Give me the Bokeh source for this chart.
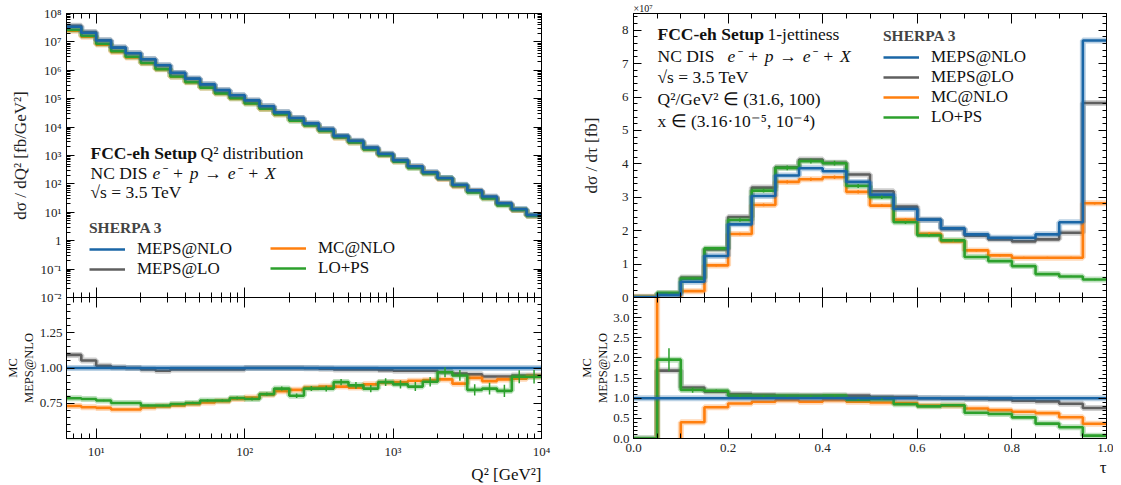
import math
from bokeh.plotting import figure
from bokeh.layouts import row, column
from bokeh.models import (LogAxis, LinearAxis, FixedTicker, CustomJSTickFormatter,
                          NumeralTickFormatter, Label, Legend, LegendItem, Range1d, Title)
from bokeh.embed import file_html
from bokeh.resources import INLINE

FONT = "Liberation Serif"
C_NLO = "#1a66a6"
C_LO = "#5f5f5f"
C_MC = "#ff7f0e"
C_PS = "#2ca02c"

# ---------------- Q^2 distribution (left) ----------------
q2_edges = [6.31, 7.94, 10.0, 12.6, 15.8, 20.0, 25.1, 31.6, 39.8, 50.1, 63.1, 79.4,
            100.0, 126.0, 158.0, 200.0, 251.0, 316.0, 398.0, 501.0, 631.0, 794.0,
            1000.0, 1259.0, 1585.0, 1995.0, 2512.0, 3162.0, 3981.0, 5012.0, 6310.0, 7943.0, 10000.0]
q2_meps_nlo = [3.4e7, 2.1e7, 1.12e7, 6.3e6, 4.0e6, 2.45e6, 1.5e6, 8.1e5, 5.1e5, 3.2e5, 2.0e5,
               1.32e5, 8.7e4, 5.4e4, 3.3e4, 2.1e4, 1.35e4, 8.5e3, 4.9e3, 3.3e3, 1.9e3, 1.15e3,
               690, 420, 257, 162, 93, 59, 36, 21, 13, 8.1]
# ratios MC / MEPS@NLO
q2_ratio_meps_lo = [1.093, 1.053, 1.016, 1.005, 1.0, 0.99, 0.98, 0.99, 0.99, 0.99, 0.99, 0.99,
                    1.0, 1.0, 1.0, 1.0, 0.998, 0.995, 0.99, 0.99, 0.99, 0.985, 0.98, 0.98,
                    0.98, 0.97, 0.96, 0.955, 0.94, 0.94, 0.947, 0.947]
q2_ratio_mc_nlo = [0.73, 0.722, 0.717, 0.706, 0.706, 0.72, 0.728, 0.735, 0.745, 0.755, 0.765, 0.78,
                   0.79, 0.81, 0.835, 0.845, 0.861, 0.868, 0.868, 0.861, 0.884, 0.896, 0.90, 0.91,
                   0.914, 0.919, 0.889, 0.93, 0.907, 0.919, 0.924, 0.942]
q2_ratio_lo_ps = [0.785, 0.78, 0.77, 0.752, 0.752, 0.734, 0.734, 0.745, 0.752, 0.77, 0.77, 0.787,
                  0.78, 0.815, 0.854, 0.803, 0.854, 0.854, 0.90, 0.877, 0.854, 0.90, 0.884, 0.868,
                  0.903, 0.97, 0.947, 0.845, 0.854, 0.838, 0.938, 0.938]
q2_ratio_lo_ps_err = [0.004, 0.004, 0.005, 0.005, 0.005, 0.006, 0.006, 0.007, 0.008, 0.008, 0.009,
                      0.01, 0.011, 0.012, 0.014, 0.016, 0.018, 0.02, 0.022, 0.024, 0.026, 0.028,
                      0.03, 0.032, 0.034, 0.036, 0.038, 0.04, 0.042, 0.044, 0.046, 0.048]

# ---------------- 1-jettiness (right) ----------------
tau_edges = [0.0, 0.05, 0.1, 0.15, 0.2, 0.25, 0.3, 0.35, 0.4, 0.45, 0.5,
             0.55, 0.6, 0.65, 0.7, 0.75, 0.8, 0.85, 0.9, 0.95, 1.0]
tau_meps_nlo = [0.003, 0.07, 0.47, 1.24, 2.19, 3.04, 3.65, 3.87, 3.78, 3.46,
                3.08, 2.65, 2.33, 2.07, 1.89, 1.79, 1.79, 1.89, 2.25, 7.69]
tau_meps_lo = [0.0, 0.118, 0.595, 1.44, 2.41, 3.29, 3.9, 4.13, 4.03, 3.68,
               3.18, 2.72, 2.33, 2.05, 1.85, 1.74, 1.68, 1.74, 1.94, 5.82]
tau_mc_nlo = [0.02, -0.25, 0.19, 0.96, 1.9, 2.77, 3.46, 3.54, 3.6, 3.16,
              2.75, 2.33, 1.91, 1.68, 1.41, 1.26, 1.19, 1.19, 1.19, 2.82]
tau_lo_ps = [0.0, 0.137, 0.565, 1.47, 2.32, 3.2, 3.88, 4.08, 4.02, 3.34,
             3.0, 2.25, 1.86, 1.71, 1.21, 1.09, 0.94, 0.70, 0.63, 0.54]
tau_lo_ps_err = [0.0, 0.02, 0.03, 0.04, 0.05, 0.06, 0.07, 0.07, 0.07, 0.06,
                 0.05, 0.05, 0.04, 0.04, 0.03, 0.03, 0.03, 0.02, 0.02, 0.02]
tau_mc_nlo_err = [0.0, 0.02, 0.02, 0.03, 0.04, 0.04, 0.05, 0.05, 0.05, 0.05,
                  0.04, 0.04, 0.04, 0.03, 0.03, 0.03, 0.03, 0.03, 0.03, 0.04]

labels = ["MEPS@NLO", "MEPS@LO", "MC@NLO", "LO+PS"]

LOG_FMT = CustomJSTickFormatter(code="""
const m = {'-':'\u207b','0':'\u2070','1':'\u00b9','2':'\u00b2','3':'\u00b3','4':'\u2074','5':'\u2075','6':'\u2076','7':'\u2077','8':'\u2078','9':'\u2079'};
const e = Math.round(Math.log10(tick));
if (e == 0) { return '1'; }
return '10' + String(e).split('').map(c => m[c]).join('');
""")

TXT = "17.5px"
SP = "\u2004"
PROC = "e\u207b" + SP + "+" + SP + "p" + SP + "\u2192" + SP + "e\u207b" + SP + "+" + SP + "X"


def base_fig(**kw):
    p = figure(output_backend="svg", toolbar_location=None, **kw)
    p.outline_line_color = "black"
    p.outline_line_width = 1
    p.xgrid.grid_line_color = None
    p.ygrid.grid_line_color = None
    p.background_fill_color = "white"
    p.border_fill_color = "white"
    return p


def style_axis(ax, show_labels=True, major_len=8, minor_len=4):
    ax.major_tick_in = major_len
    ax.major_tick_out = 0
    ax.minor_tick_in = minor_len
    ax.minor_tick_out = 0
    ax.axis_line_color = "black"
    ax.major_tick_line_color = "black"
    ax.minor_tick_line_color = "black"
    ax.major_label_text_font = FONT
    ax.major_label_text_font_size = "13px"
    ax.major_label_text_color = "#222222"
    ax.axis_label_text_font = FONT
    ax.axis_label_text_font_style = "normal"
    ax.axis_label_text_font_size = "17px"
    ax.axis_label_text_color = "#222222"
    if not show_labels:
        ax.formatter = CustomJSTickFormatter(code="return ''")
        ax.major_label_text_font_size = "0px"
        ax.major_label_standoff = 0
        ax.axis_label = None


def make_axes(p, xlog, ylog):
    """returns (bottom, left, top, right) axes"""
    r = (LogAxis if ylog else LinearAxis)()
    p.add_layout(r, "right")
    t = (LogAxis if xlog else LinearAxis)()
    p.add_layout(t, "above")
    return p.below[0], p.left[0], t, r


def step(p, edges, vals, color, width=2.6):
    ys = list(vals) + [vals[-1]]
    p.step(edges, ys, mode="after", line_color=color, line_alpha=0.3, line_width=6)
    return p.step(edges, ys, mode="after", line_color=color, line_width=width)


def lab(p, x, y, text, size=TXT, style="normal", align="left", baseline="middle"):
    p.add_layout(Label(x=x, y=y, x_units="screen", y_units="screen", text=text,
                       text_font=FONT, text_font_size=size, text_font_style=style,
                       text_align=align, text_baseline=baseline, text_color="#111111"))


def side_title(p, text, place, size="12.5px", align="center", standoff=0):
    p.add_layout(Title(text=text, align=align, text_font=FONT, text_font_size=size,
                       text_font_style="normal", standoff=standoff, text_color="#111111"), place)


# tick positions
q2_major = [10.0, 100.0, 1000.0, 10000.0]
q2_minor = [m * 10.0 ** k for k in range(0, 4) for m in range(2, 10)]
y_major = [10.0 ** k for k in range(-2, 9)]
y_minor = [m * 10.0 ** k for k in range(-2, 8) for m in range(2, 10)]
tau_major = [0.0, 0.2, 0.4, 0.6, 0.8, 1.0]
tau_minor = [i * 0.05 for i in range(21)]

FW_L, FW_R, FH_M, FH_R = 475, 473, 284, 141
OVER = 8
BL_L, BR_L, BL_R, BR_R = 66, 32, 60, 7

# ================= LEFT MAIN =================
pL = base_fig(frame_width=FW_L, frame_height=FH_M, x_axis_type="log", y_axis_type="log",
              x_range=Range1d(q2_edges[0], q2_edges[-1]), y_range=Range1d(1e-2, 1e8),
              min_border_left=BL_L, min_border_right=BR_L, min_border_top=13, min_border_bottom=OVER)
b, l, t, r = make_axes(pL, True, True)
for ax in (b, t):
    ax.ticker = FixedTicker(ticks=q2_major, minor_ticks=q2_minor)
    style_axis(ax, False, major_len=10, minor_len=5)
for ax in (l, r):
    ax.ticker = FixedTicker(ticks=y_major, minor_ticks=y_minor)
style_axis(l, True)
l.formatter = LOG_FMT
l.axis_label = "d\u03c3 / dQ\u00b2 [fb/GeV\u00b2]"
l.axis_label_standoff = 8
style_axis(r, False)

q2_lo = [a * c for a, c in zip(q2_meps_nlo, q2_ratio_meps_lo)]
q2_mc = [a * c for a, c in zip(q2_meps_nlo, q2_ratio_mc_nlo)]
q2_ps = [a * c for a, c in zip(q2_meps_nlo, q2_ratio_lo_ps)]
rl_lo = step(pL, q2_edges, q2_lo, C_LO)
rl_mc = step(pL, q2_edges, q2_mc, C_MC)
rl_ps = step(pL, q2_edges, q2_ps, C_PS)
rl_nlo = step(pL, q2_edges, q2_meps_nlo, C_NLO)

lab(pL, 24, 145, "FCC-eh Setup", style="bold")
lab(pL, 134, 145, "Q\u00b2 distribution")
lab(pL, 24, 125, "NC DIS")
lab(pL, 86, 125, PROC, style="italic")
lab(pL, 24, 106, "\u221as = 3.5 TeV")

legL1 = Legend(items=[LegendItem(label="MEPS@NLO", renderers=[rl_nlo]),
                      LegendItem(label="MEPS@LO", renderers=[rl_lo])],
               location=(23, 18), title="SHERPA 3")
legL2 = Legend(items=[LegendItem(label="MC@NLO", renderers=[rl_mc]),
                      LegendItem(label="LO+PS", renderers=[rl_ps])],
               location=(204, 19))

# ================= LEFT RATIO =================
rL = base_fig(frame_width=FW_L, frame_height=FH_R, x_axis_type="log",
              x_range=pL.x_range, y_range=Range1d(0.5, 1.5),
              min_border_left=BL_L, min_border_right=BR_L, min_border_top=0, min_border_bottom=37)
b, l, t, r = make_axes(rL, True, False)
for ax in (b, t):
    ax.ticker = FixedTicker(ticks=q2_major, minor_ticks=q2_minor)
style_axis(b, True, major_len=10, minor_len=5)
b.formatter = LOG_FMT
b.axis_label = None
style_axis(t, False, major_len=10, minor_len=5)
for ax in (l, r):
    ax.ticker = FixedTicker(ticks=[0.75, 1.0, 1.25], minor_ticks=[0.5 + 0.05 * k for k in range(21)])
style_axis(l, True)
l.formatter = NumeralTickFormatter(format="0.00")
l.axis_label = None
l.major_label_standoff = 4
style_axis(r, False)

step(rL, q2_edges, q2_ratio_meps_lo, C_LO)
step(rL, q2_edges, q2_ratio_mc_nlo, C_MC)
step(rL, q2_edges, q2_ratio_lo_ps, C_PS)
step(rL, q2_edges, [v / v for v in q2_meps_nlo], C_NLO)
q2_centers = [math.sqrt(a * c) for a, c in zip(q2_edges[:-1], q2_edges[1:])]
rL.segment(x0=q2_centers, x1=q2_centers,
           y0=[v - e for v, e in zip(q2_ratio_lo_ps, q2_ratio_lo_ps_err)],
           y1=[v + e for v, e in zip(q2_ratio_lo_ps, q2_ratio_lo_ps_err)],
           line_color=C_PS, line_width=1.5)
side_title(rL, "Q\u00b2 [GeV\u00b2]", "below", size="17px", align="right", standoff=2)
side_title(rL, "MEPS@NLO", "left", standoff=1)
side_title(rL, "MC", "left", standoff=0)

# ================= RIGHT MAIN =================
pR = base_fig(frame_width=FW_R, frame_height=FH_M, x_range=Range1d(0, 1), y_range=Range1d(0, 8.5),
              min_border_left=BL_R, min_border_right=BR_R, min_border_top=13, min_border_bottom=OVER)
b, l, t, r = make_axes(pR, False, False)
for ax in (b, t):
    ax.ticker = FixedTicker(ticks=tau_major, minor_ticks=tau_minor)
    style_axis(ax, False, major_len=10, minor_len=5)
for ax in (l, r):
    ax.ticker = FixedTicker(ticks=list(range(0, 9)), minor_ticks=[0.2 * k for k in range(43)])
style_axis(l, True)
l.formatter = NumeralTickFormatter(format="0")
l.axis_label = "d\u03c3 / d\u03c4 [fb]"
l.axis_label_standoff = 18
style_axis(r, False)
side_title(pR, "\u00d710\u2077", "above", size="10px", align="left", standoff=0)

rr_lo = step(pR, tau_edges, tau_meps_lo, C_LO)
rr_mc = step(pR, tau_edges, tau_mc_nlo, C_MC)
rr_ps = step(pR, tau_edges, tau_lo_ps, C_PS)
rr_nlo = step(pR, tau_edges, tau_meps_nlo, C_NLO)
tau_centers = [(a + c) / 2 for a, c in zip(tau_edges[:-1], tau_edges[1:])]
pR.segment(x0=tau_centers, x1=tau_centers,
           y0=[v - e for v, e in zip(tau_mc_nlo, tau_mc_nlo_err)],
           y1=[v + e for v, e in zip(tau_mc_nlo, tau_mc_nlo_err)], line_color=C_MC, line_width=1.5)
pR.segment(x0=tau_centers, x1=tau_centers,
           y0=[v - e for v, e in zip(tau_lo_ps, tau_lo_ps_err)],
           y1=[v + e for v, e in zip(tau_lo_ps, tau_lo_ps_err)], line_color=C_PS, line_width=1.5)

lab(pR, 24, 264, "FCC-eh Setup", style="bold")
lab(pR, 134, 264, "1-jettiness")
lab(pR, 24, 242, "NC DIS")
lab(pR, 94, 242, PROC, style="italic")
lab(pR, 24, 221, "\u221as = 3.5 TeV")
lab(pR, 24, 199, "Q\u00b2/GeV\u00b2 \u2208 (31.6, 100)")
lab(pR, 24, 177, "x \u2208 (3.16\u00b710\u207b\u2075, 10\u207b\u2074)")

legR = Legend(items=[LegendItem(label=lb, renderers=[rr]) for lb, rr in
                     zip(labels, [rr_nlo, rr_lo, rr_mc, rr_ps])],
              location=(250, 170), title="SHERPA 3")

for lg, p in [(legL1, pL), (legL2, pL), (legR, pR)]:
    lg.label_text_font = FONT
    lg.label_text_font_size = "17px"
    lg.label_text_color = "#111111"
    lg.title_text_font = FONT
    lg.title_text_font_size = "15.5px"
    lg.title_text_font_style = "bold"
    lg.title_standoff = 2
    lg.glyph_width = 36
    lg.glyph_height = 20
    lg.label_height = 20
    lg.label_standoff = 12
    lg.spacing = 0
    lg.padding = 0
    lg.margin = 0
    lg.border_line_color = None
    lg.background_fill_alpha = 0
    p.add_layout(lg)

# ================= RIGHT RATIO =================
rR = base_fig(frame_width=FW_R, frame_height=FH_R, x_range=pR.x_range, y_range=Range1d(0, 3.5),
              min_border_left=BL_R, min_border_right=BR_R, min_border_top=0, min_border_bottom=37)
b, l, t, r = make_axes(rR, False, False)
for ax in (b, t):
    ax.ticker = FixedTicker(ticks=tau_major, minor_ticks=tau_minor)
style_axis(b, True, major_len=10, minor_len=5)
b.formatter = NumeralTickFormatter(format="0.0")
b.axis_label = None
style_axis(t, False, major_len=10, minor_len=5)
for ax in (l, r):
    ax.ticker = FixedTicker(ticks=[0.5 * k for k in range(7)], minor_ticks=[0.1 * k for k in range(36)])
style_axis(l, True)
l.formatter = NumeralTickFormatter(format="0.0")
l.axis_label = None
l.major_label_standoff = 4
style_axis(r, False)

ratio_lo = [a / c for a, c in zip(tau_meps_lo, tau_meps_nlo)]
ratio_mc = [a / c for a, c in zip(tau_mc_nlo, tau_meps_nlo)]
ratio_ps = [a / c for a, c in zip(tau_lo_ps, tau_meps_nlo)]
step(rR, tau_edges, ratio_lo, C_LO)
step(rR, tau_edges, ratio_mc, C_MC)
step(rR, tau_edges, ratio_ps, C_PS)
step(rR, tau_edges, [a / a for a in tau_meps_nlo], C_NLO)
rR.segment(x0=tau_centers, x1=tau_centers,
           y0=[(v - e) / c for v, e, c in zip(tau_lo_ps, tau_lo_ps_err, tau_meps_nlo)],
           y1=[(v + e) / c for v, e, c in zip(tau_lo_ps, tau_lo_ps_err, tau_meps_nlo)],
           line_color=C_PS, line_width=1.5)
side_title(rR, "\u03c4", "below", size="17px", align="right", standoff=2)
side_title(rR, "MEPS@NLO", "left", standoff=1)
side_title(rR, "MC", "left", standoff=0)

# let the ratio panels overlap the (transparent) lower border of the main panels
for rp in (rL, rR):
    rp.border_fill_alpha = 0
    try:
        rp.margin = (-OVER, 0, 0, 0)
    except Exception:
        pass

layout = row(column(pL, rL), column(pR, rR))
open("out.html", "w").write(file_html(layout, INLINE))
